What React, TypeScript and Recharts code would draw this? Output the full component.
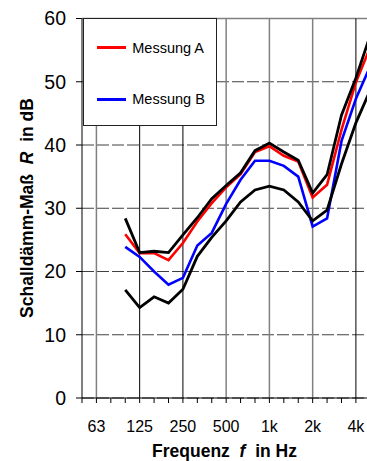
import { LineChart, Line, XAxis, YAxis, CartesianGrid, ReferenceLine, Legend } from 'recharts'

// third-octave band centres, the axis runs from 50 Hz; the picture is cut off just past 4k
const bands = ['50', '63', '80', '100', '125', '160', '200', '250', '315', '400', '500', '630', '800', '1k', '1.25k', '1.6k', '2k', '2.5k', '3.15k', '4k', '5k']
const labelledBands = ['63', '125', '250', '500', '1k', '2k', '4k']
const measuredBands = ['100', '125', '160', '200', '250', '315', '400', '500', '630', '800', '1k', '1.25k', '1.6k', '2k', '2.5k', '3.15k', '4k', '5k']

const messungA = [25.9, 22.9, 22.9, 21.8, 24.5, 27.9, 30.8, 33.3, 35.4, 38.9, 39.8, 38.3, 37.4, 31.7, 33.7, 42.4, 49.9, 55.5]
const messungB = [23.9, 22.3, 20.0, 17.9, 19.0, 24.1, 26.1, 30.7, 34.5, 37.5, 37.5, 36.7, 35.0, 27.1, 28.4, 40.6, 47.3, 52.5]
const rangeUpper = [28.4, 23.0, 23.2, 23.0, 25.8, 28.5, 31.5, 33.6, 35.6, 39.1, 40.3, 38.9, 37.6, 32.4, 35.3, 44.7, 50.6, 57.4]
const rangeLower = [17.1, 14.3, 16.0, 15.0, 17.2, 22.4, 25.4, 28.0, 31.0, 32.9, 33.5, 32.9, 31.0, 28.0, 29.7, 37.0, 43.5, 48.7]

const yTicks = [0, 10, 20, 30, 40, 50, 60]
const seriesNames = ['Messung A', 'Messung B']

const data = measuredBands.map((b, k) => ({
  pos: bands.indexOf(b),
  a: messungA[k],
  b: messungB[k],
  hi: rangeUpper[k],
  lo: rangeLower[k],
}))

const FONT = 'Arial, "Liberation Sans", sans-serif'
const RED = '#ff0000'
const BLUE = '#0000ff'

// vertical grid: grey and black lines alternate like in the original
const gridStroke: Record<string, string> = { '63': '#808080', '125': '#000', '250': '#000', '500': '#808080', '1k': '#808080', '2k': '#808080', '4k': '#000' }

function LegendBox() {
  const rows = [{ color: RED, top: 28.7 }, { color: BLUE, top: 80.3 }]
  return (
    <div style={{ width: 134, height: 108, boxSizing: 'border-box', border: '1px solid #222', background: '#fff', position: 'relative', fontFamily: FONT }}>
      {rows.map((r, i) => (
        <div key={i} style={{ position: 'absolute', left: 0, top: r.top - 10, height: 20, display: 'flex', alignItems: 'center' }}>
          <span style={{ display: 'inline-block', marginLeft: 12.7, width: 29, height: 3, background: r.color }} />
          <span style={{ marginLeft: 6.6, fontSize: 14.5, color: '#000' }}>{seriesNames[i]}</span>
        </div>
      ))}
    </div>
  )
}

export default function App() {
  return (
    <div style={{ position: 'absolute', left: 0, top: 0 }}>
      <LineChart width={367} height={461} data={data} margin={{ top: 18.5, right: 0, left: 0, bottom: 0 }}>
        <CartesianGrid vertical={false} stroke="#404040" strokeDasharray="12 3" />
        <ReferenceLine y={60} stroke="#808080" strokeWidth={1.5} />
        {labelledBands.map((b) => (
          <ReferenceLine key={b} x={bands.indexOf(b)} stroke={gridStroke[b]} strokeWidth={gridStroke[b] === '#000' ? 1 : 1.5} />
        ))}
        <XAxis
          dataKey="pos"
          type="number"
          domain={[0, 19.77]}
          allowDataOverflow
          ticks={bands.map((_, i) => i)}
          tickFormatter={(v: number) => (labelledBands.includes(bands[v]) ? bands[v] : '')}
          interval={0}
          height={63}
          tickSize={5}
          tickMargin={18}
          stroke="#000"
          tick={{ fontSize: 16, fill: '#000', fontFamily: FONT }}
          label={() => (
            <text x={224.5} y={456.5} textAnchor="middle" fontFamily={FONT} fontWeight="bold" fontSize={17.5} fill="#000" style={{ whiteSpace: 'pre' }}>
              {'Frequenz  '}<tspan fontStyle="italic">f</tspan>{'  in Hz'}
            </text>
          )}
        />
        <YAxis
          type="number"
          domain={[0, 60]}
          ticks={yTicks}
          width={82}
          tickSize={6}
          tickMargin={10}
          stroke="#000"
          tick={{ fontSize: 19.5, fill: '#000', fontFamily: FONT }}
          label={() => (
            <text x={33} y={208} transform="rotate(-90 33 208)" textAnchor="middle" fontFamily={FONT} fontWeight="bold" fontSize={17.5} fill="#000" style={{ whiteSpace: 'pre' }}>
              {'Schalldämm-Maß  '}<tspan fontStyle="italic">R</tspan>{'  in dB'}
            </text>
          )}
        />
        <Line dataKey="b" stroke={BLUE} strokeWidth={2.6} dot={false} isAnimationActive={false} />
        <Line dataKey="a" stroke={RED} strokeWidth={2.6} dot={false} isAnimationActive={false} />
        <Line dataKey="lo" stroke="#000" strokeWidth={2.8} dot={false} isAnimationActive={false} />
        <Line dataKey="hi" stroke="#000" strokeWidth={2.8} dot={false} isAnimationActive={false} />
        <Legend
          layout="vertical"
          align="center"
          verticalAlign="middle"
          wrapperStyle={{ left: 83, top: 18, width: 134, height: 108 }}
          content={() => <LegendBox />}
        />
      </LineChart>
    </div>
  )
}
